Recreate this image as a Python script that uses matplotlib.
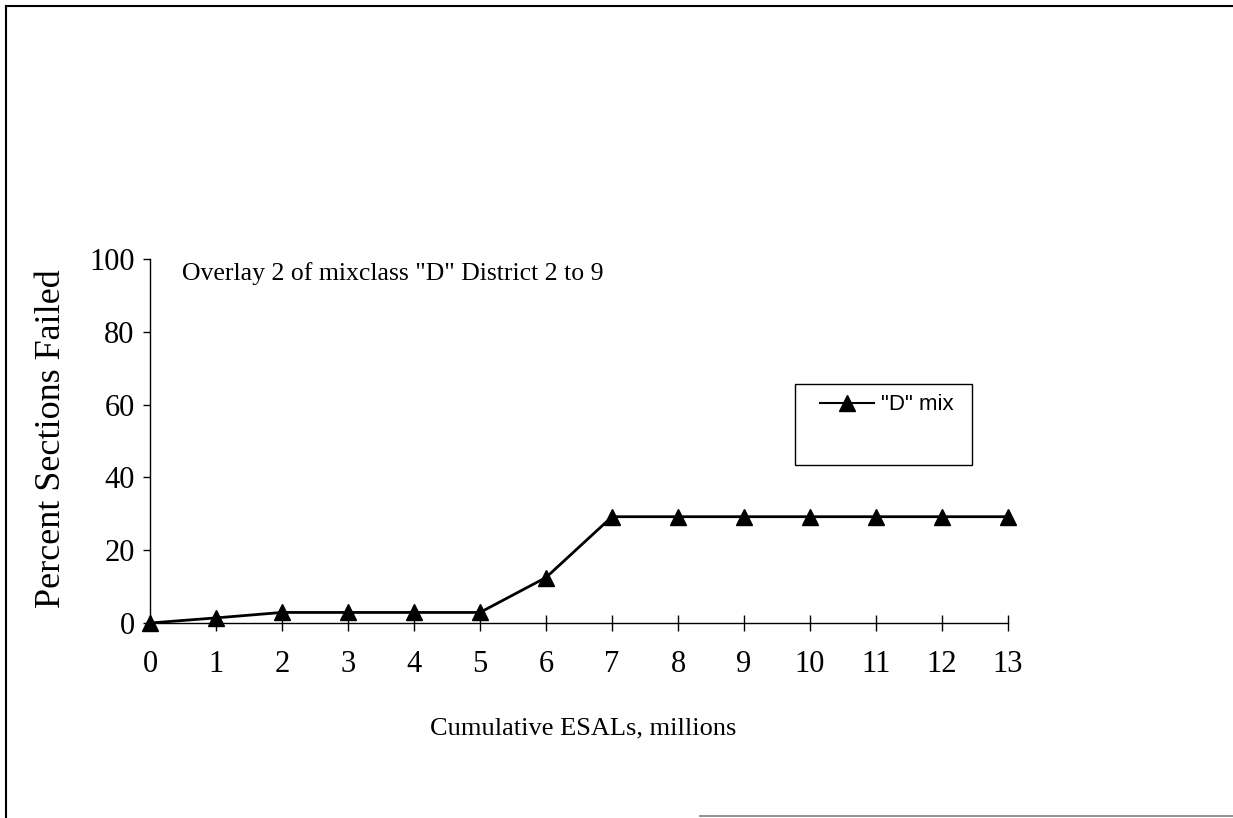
import matplotlib
matplotlib.use("Agg")
import matplotlib.pyplot as plt
from matplotlib.lines import Line2D
from matplotlib.patches import Rectangle

x_vals = [0, 1, 2, 3, 4, 5, 6, 7, 8, 9, 10, 11, 12, 13]
pct_failed = [0, 1.4, 2.9, 2.9, 2.9, 2.9, 12.5, 29.2, 29.2, 29.2, 29.2, 29.2, 29.2, 29.2]
y_ticks = [0, 20, 40, 60, 80, 100]
series_label = '"D" mix'
note = 'Overlay 2 of mixclass "D" District 2 to 9'

W, H = 1233, 818
fig = plt.figure(figsize=(W / 100, H / 100), dpi=100)
ax = fig.add_axes([150 / W, 1 - 623 / H, (1008 - 150) / W, (623 - 259) / H])

serif = ['Liberation Serif', 'DejaVu Serif']
sans = ['Liberation Sans', 'DejaVu Sans']

ax.plot(x_vals, pct_failed, color='black', lw=2, marker='^', markersize=11,
        markerfacecolor='black', markeredgecolor='black', clip_on=False, zorder=5)

ax.set_xlim(0, 13)
ax.set_ylim(0, 100)
ax.set_xticks(x_vals)
ax.set_yticks(y_ticks)
for s in ['top', 'right']:
    ax.spines[s].set_visible(False)
for s in ['left', 'bottom']:
    ax.spines[s].set_linewidth(1)
ax.tick_params(axis='x', direction='inout', length=11, width=1, pad=14, labelsize=22)
ax.tick_params(axis='y', direction='out', length=5, width=1, pad=6, labelsize=22)
for lab in ax.get_xticklabels() + ax.get_yticklabels():
    lab.set_family(serif)

ax.set_xlabel('Cumulative ESALs, millions', fontsize=19, family=serif)
ax.xaxis.set_label_coords((583 - 150) / 858, (623 - 717) / 364)
ax.set_ylabel('Percent Sections Failed', fontsize=26, family=serif)
ax.yaxis.set_label_coords((68 - 150) / 858, (623 - 438.5) / 364)

ax.text(182 / W, 1 - 274 / H, note, transform=fig.transFigure, fontsize=18.5,
        family=serif, va='center', ha='left')

# legend frame
fig.add_artist(Rectangle((795 / W, 1 - 465 / H), 177 / W, 81 / H,
                         transform=fig.transFigure, fill=False,
                         edgecolor='black', lw=1))
handle = Line2D([], [], color='black', lw=1.5, marker='^', markersize=11,
                markerfacecolor='black')
leg = fig.legend([handle], [series_label], loc='center left',
                 bbox_to_anchor=(820 / W, 1 - 405 / H), frameon=False,
                 prop={'family': sans, 'size': 16}, handlelength=2.45,
                 borderpad=0, handletextpad=0.3, borderaxespad=0)

# outer page border
fig.add_artist(Line2D([6 / W, 6 / W], [0, 1 - 6 / H], transform=fig.transFigure, color='black', lw=1.5))
fig.add_artist(Line2D([6 / W, 1], [1 - 6 / H, 1 - 6 / H], transform=fig.transFigure, color='black', lw=1.5))
fig.add_artist(Line2D([700 / W, 1], [1 - 816 / H, 1 - 816 / H], transform=fig.transFigure, color='grey', lw=1.2))

fig.savefig('out.png', dpi=100)
